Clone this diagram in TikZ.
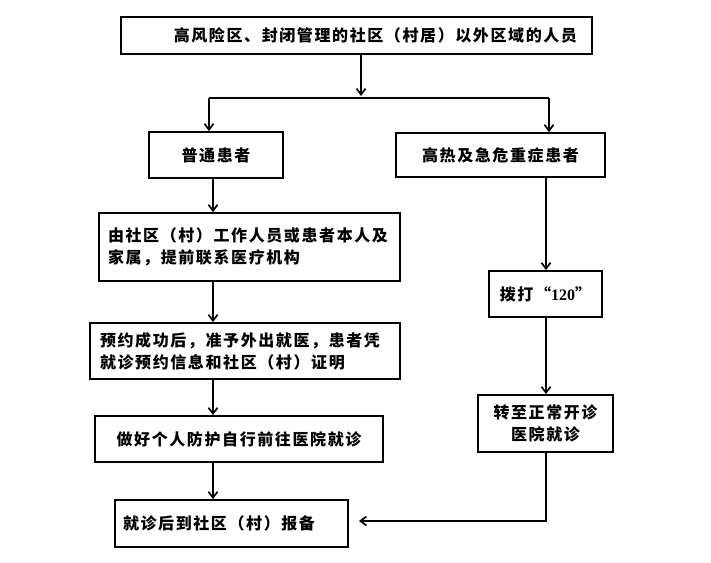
\documentclass[tikz,border=0pt]{standalone}
\usepackage{fontspec}
\newfontfamily\cjk{Noto Sans CJK SC}[LetterSpace=10]
\newfontfamily\lat{Liberation Serif}
\usetikzlibrary{arrows.meta}

\begin{document}
\begin{tikzpicture}
        [x=1pt,y=-1pt,
        %%%%%%%%%%%%%%%%%%%%%%%%%%%%%%
        box/.style={rectangle,draw=black,line width=1.8pt,inner sep=0pt,
          font=\cjk\bfseries\fontsize{16}{22}\selectfont},
        arr/.style={line width=1.7pt,-{Straight Barb[length=6pt,width=9pt]}},
        link/.style={line width=1.7pt},
        ]%%%%%%%%%%%%%%%%%%%%%%%%%%%%%%
        \useasboundingbox (0,0) rectangle (711,562);
        % Top box
        \node[box, text width=441pt, inner xsep=15pt, minimum height=37pt, align=right] (top) at (356.5,35.5) {高风险区、封闭管理的社区（村居）以外区域的人员};
        % LEFT COLUMN
        \node[box, minimum width=134pt, minimum height=46pt] (common) at (216,155) {普通患者};
        \node[box, text width=283pt, inner xsep=9pt, minimum height=68pt, align=left] (contact) at (249.5,247) {由社区（村）工作人员或患者本人及\\家属，提前联系医疗机构\par\vspace{11pt}};
        \node[box, text width=290pt, inner xsep=10pt, minimum height=56pt, align=left] (booking) at (245,351) {预约成功后，准予外出就医，患者凭\\就诊预约信息和社区（村）证明};
        \node[box, minimum width=288pt, minimum height=46pt] (selfgo) at (239,439) {做好个人防护自行前往医院就诊};
        \node[box, text width=217pt, inner xsep=8pt, minimum height=47pt, align=left] (report) at (231.5,523.5) {就诊后到社区（村）报备};
        % RIGHT COLUMN
        \node[box, minimum width=209pt, minimum height=44pt] (severe) at (500.5,155) {高热及急危重症患者};
        \node[box, minimum width=113pt, minimum height=46pt] (call) at (545.5,294) {拨打“{\lat\bfseries 120}”};
        \node[box, minimum width=135pt, minimum height=57pt, align=center] (transfer) at (545.5,423.5) {转至正常开诊\\医院就诊};
        % Turning points
        \coordinate (split) at (361,96);
        \coordinate (lturn) at (209,98);
        \coordinate (rturn) at (549,98);
        \coordinate (lcol) at (213,0);
        \coordinate (rcol) at (546,0);
        \coordinate (back) at (359,521);
        % Lines
        \draw[arr] (top.south -| split) -- (split);
        \draw[link] (lturn) -- (rturn);
        \draw[arr] (lturn) -- (lturn |- common.north);
        \draw[arr] (rturn) -- (rturn |- severe.north);
        \draw[arr] (common.south -| lcol) -- (contact.north -| lcol);
        \draw[arr] (contact.south -| lcol) -- (booking.north -| lcol);
        \draw[arr] (booking.south -| lcol) -- (selfgo.north -| lcol);
        \draw[arr] (selfgo.south -| lcol) -- (report.north -| lcol);
        \draw[arr] (severe.south -| rcol) -- (call.north -| rcol);
        \draw[arr] (call.south -| rcol) -- (transfer.north -| rcol);
        \draw[arr] (transfer.south -| rcol) |- (back);
      \end{tikzpicture}
\end{document}
